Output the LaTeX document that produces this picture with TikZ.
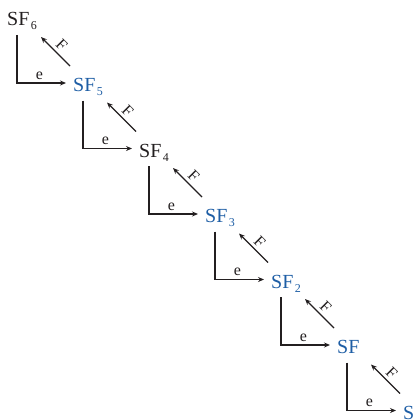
\documentclass[tikz,border=0pt]{standalone}
\usepackage{fontspec}
\setmainfont{Liberation Serif}
\usetikzlibrary{arrows.meta}
\definecolor{sfblue}{RGB}{30,94,165}
\definecolor{sfblack}{RGB}{35,31,32}
\newcommand\subnum[1]{\kern1.5pt\raisebox{-4pt}{\fontsize{12}{12}\selectfont #1}}
\begin{document}
\begin{tikzpicture}[x=1pt,y=-1pt,
  species/.style={anchor=base west,inner sep=0pt,font=\fontsize{20}{20}\selectfont},
  sfb/.style={species,text=sfblue},
  sfk/.style={species,text=sfblack},
  arr/.style={line width=1.1pt,draw=sfblack,-{Stealth[length=6pt,width=5pt]}},
  lbl/.style={font=\fontsize{16}{16}\selectfont,text=sfblack,inner sep=0pt}]
\clip (0,0) rectangle (415,420);
\node[sfk] (n0) at (7,26) {SF\subnum{6}};
\node[sfb] (n1) at (73,91.5) {SF\subnum{5}};
\node[sfk] (n2) at (139,157) {SF\subnum{4}};
\node[sfb] (n3) at (205,222.5) {SF\subnum{3}};
\node[sfb] (n4) at (271,288) {SF\subnum{2}};
\node[sfb] (n5) at (337,353.5) {SF};
\node[sfb] (n6) at (403,419) {S};
\foreach \a/\b in {n0/n1,n1/n2,n2/n3,n3/n4,n4/n5,n5/n6}{
  \draw[arr] ([xshift=10pt,yshift=-9pt]\a.base west) |- ([xshift=-7pt,yshift=8.5pt]\b.base west)
     node[lbl,pos=0.75,anchor=base,yshift=4pt,xshift=-2pt] {e};
  \draw[arr] ([xshift=-3pt,yshift=25.5pt]\b.base west) -- ([xshift=34pt,yshift=-11pt]\a.base west)
     node[lbl,midway,sloped,above=3pt] {F};
}
\end{tikzpicture}
\end{document}
